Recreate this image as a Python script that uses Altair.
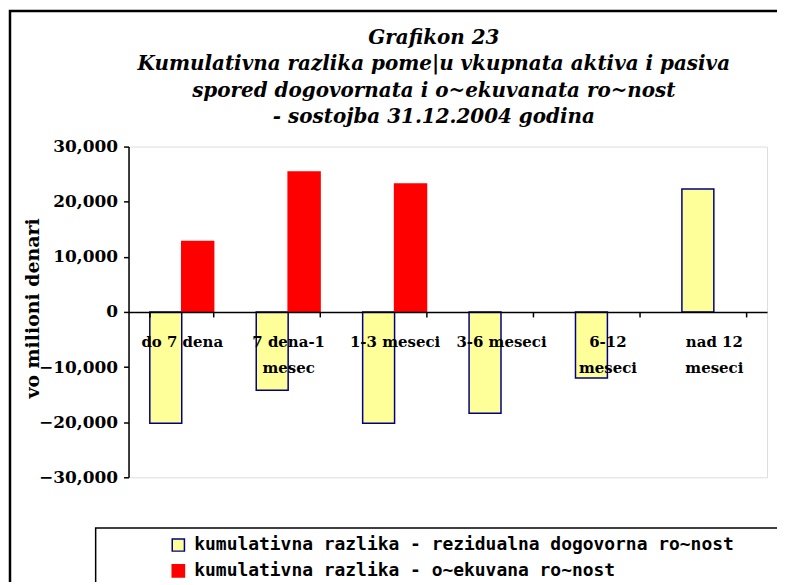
import altair as alt
import pandas as pd

categories = ["do 7 dena", "7 dena-1\nmesec", "1-3 meseci", "3-6 meseci", "6-12\nmeseci", "nad 12\nmeseci"]
series_names = [
    "kumulativna razlika - rezidualna dogovorna ro~nost",
    "kumulativna razlika - o~ekuvana ro~nost",
]
residual = [-20200, -14200, -20200, -18400, -12000, 22300]
expected = [12800, 25400, 23200, None, None, None]
y_ticks = [-30000, -20000, -10000, 0, 10000, 20000, 30000]
title_lines = [
    "Grafikon 23",
    "Kumulativna razlika pome|u vkupnata aktiva i pasiva",
    "spored dogovornata i o~ekuvanata ro~nost",
    "- sostojba 31.12.2004 godina",
]
y_title = "vo milioni denari"

rows = []
for c, r, e in zip(categories, residual, expected):
    rows.append({"category": c, "series": series_names[0], "value": r})
    rows.append({"category": c, "series": series_names[1], "value": e})
df = pd.DataFrame(rows)

W, H = 641, 332

legend_cfg = dict(
    orient="none", legendX=41, legendY=391, title=None,
    symbolType="square", symbolSize=150, symbolStrokeWidth=1.5,
    labelFont="DejaVu Sans Mono", labelFontSize=18, labelFontWeight="bold",
    labelColor="black", labelOffset=7, rowPadding=6, padding=0, labelLimit=700,
)

bars = alt.Chart(df).mark_bar(strokeWidth=1.5).encode(
    x=alt.X(
        "category:N", sort=categories,
        scale=alt.Scale(paddingInner=0.4, paddingOuter=0.2),
        axis=alt.Axis(
            title=None, orient="bottom", offset=-H / 2, labelAngle=0,
            labelFont="DejaVu Serif", labelFontWeight="bold", labelFontSize=15,
            labelColor="black", labelPadding=18, labelLineHeight=26,
            labelExpr="split(datum.label, '\\n')", labelLimit=200,
            tickSize=5, tickColor="black", tickWidth=1.5, tickBand="extent",
            domainColor="black", domainWidth=1.5, zindex=1, grid=False,
        ),
    ),
    xOffset=alt.XOffset("series:N", sort=series_names,
                        scale=alt.Scale(paddingInner=0, paddingOuter=0)),
    y=alt.Y(
        "value:Q",
        scale=alt.Scale(domain=[-30000, 30000], nice=False),
        axis=alt.Axis(
            values=y_ticks, format=",.0f", grid=False,
            labelFont="DejaVu Serif", labelFontWeight="bold", labelFontSize=17,
            labelColor="black", labelPadding=6,
            tickSize=5, tickColor="black", tickWidth=1.5,
            domainColor="black", domainWidth=1.5,
            title=y_title, titleFont="DejaVu Serif", titleFontWeight="bold",
            titleFontSize=19, titleColor="black", titleX=-96, titleY=H / 2 - 4,
            titleAngle=270, titleAlign="center", titleBaseline="middle",
        ),
    ),
    color=alt.Color("series:N", sort=series_names,
                    scale=alt.Scale(domain=series_names, range=["#FFFF99", "#FF0000"]),
                    legend=alt.Legend(**legend_cfg)),
    stroke=alt.Stroke("series:N", sort=series_names,
                      scale=alt.Scale(domain=series_names, range=["#000080", "#FF0000"]),
                      legend=alt.Legend(**legend_cfg)),
)

one = pd.DataFrame({"k": [0]})
frame = alt.Chart(one).mark_rect(fillOpacity=0, stroke="black", strokeWidth=2.5).encode(
    x=alt.value(-119), x2=alt.value(800), y=alt.value(-136), y2=alt.value(600)
)
legend_box = alt.Chart(one).mark_rect(fillOpacity=0, stroke="black", strokeWidth=1.5).encode(
    x=alt.value(-33), x2=alt.value(800), y=alt.value(383), y2=alt.value(600)
)
title_text = alt.Chart(one).mark_text(
    align="center", baseline="middle", font="DejaVu Serif", fontStyle="italic",
    fontWeight="bold", fontSize=20, lineHeight=26.5, color="black",
).encode(
    x=alt.value(W / 2 - 14), y=alt.value(-109), text=alt.value(title_lines)
)

chart = alt.layer(frame, legend_box, title_text, bars).properties(
    width=W, height=H,
    autosize=alt.AutoSizeParams(type="none"),
    padding={"left": 121, "top": 138, "right": 10, "bottom": 104},
).configure_view(stroke="#808080", strokeWidth=1.5).configure(background="white")

chart.save("out.html", embed_options={"renderer": "svg", "actions": False})
